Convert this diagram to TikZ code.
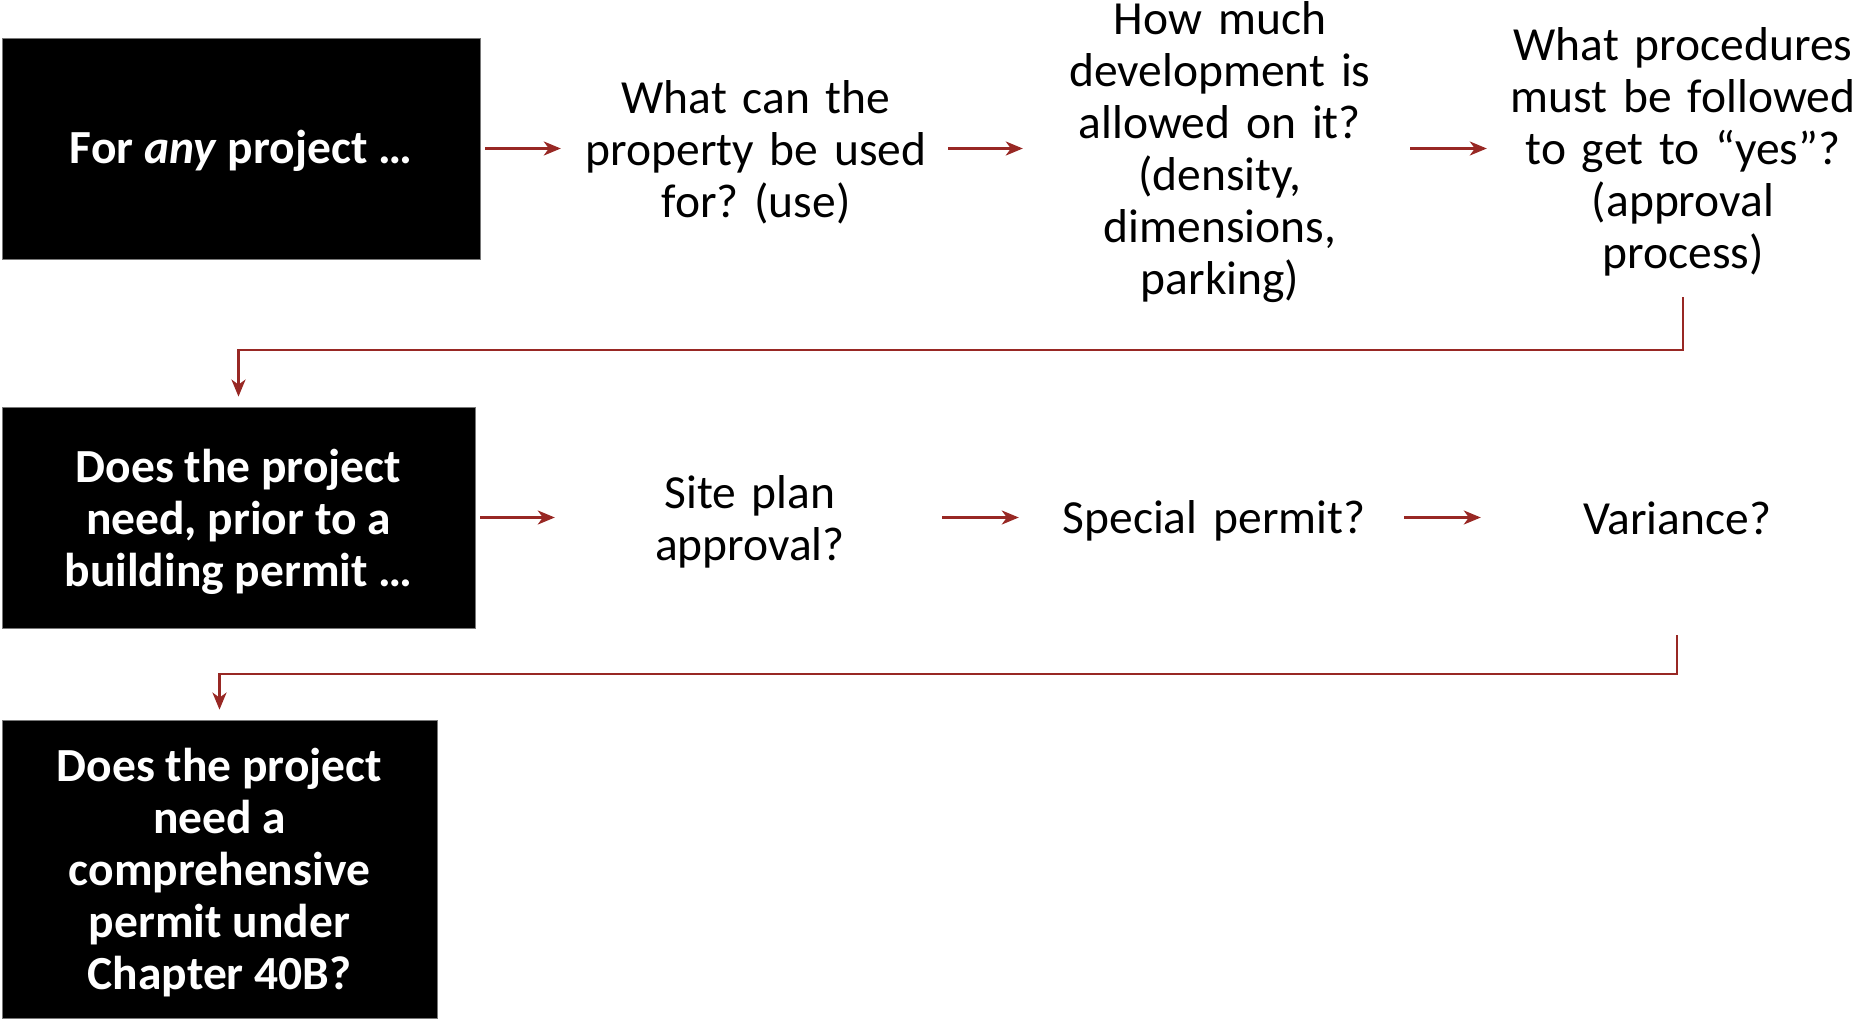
\documentclass[tikz,border=0pt]{standalone}
\usepackage{fontspec}
\setmainfont{Carlito}
\usetikzlibrary{arrows.meta}
\definecolor{arrred}{RGB}{152,40,36}
\definecolor{boxedge}{RGB}{120,120,120}
\begin{document}
\frenchspacing
\begin{tikzpicture}[x=1pt,y=-1pt,
  blackbox/.style={fill=black, draw=boxedge, line width=0.8pt, text=white,
    font=\fontsize{47.5}{52}\selectfont\bfseries, align=center, inner sep=0pt},
  boxtext/.style={inner sep=0pt, text=white, font=\fontsize{47.5}{52}\selectfont\bfseries, align=center},
  plain/.style={inner sep=0pt, align=center, font=\fontsize{47.5}{52}\selectfont, text=black},
  arr/.style={draw=arrred, line width=2.5pt, -{Stealth[length=17pt,width=14pt,inset=5pt]}},
]
\useasboundingbox (0,0) rectangle (1853,1019);

% row 1
\node[blackbox, minimum width=478pt, minimum height=221pt] (b1) at (241,148.5) {};
\node[boxtext] (b1t) at (241,151) {For \textit{any} project …};
\node[plain, text width=384pt] (t1) at (756,152) {What can the\\property be used\\for? (use)};
\node[plain, text width=394pt] (t2) at (1220,152) {How much\\development is\\allowed on it?\\(density,\\dimensions,\\parking)};
\node[plain, text width=392pt, minimum height=290pt] (t3) at (1683,152) {What procedures\\must be followed\\to get to “yes”?\\(approval\\process)};

\draw[arr, shorten <=5pt, shorten >=3pt] (b1.east) -- (b1.east -| t1.west);
\draw[arr] (b1.east -| t1.east) -- (b1.east -| t2.west);
\draw[arr, shorten <=-7pt] (b1.east -| t2.east) -- (b1.east -| t3.west);

% row 2
\node[blackbox, minimum width=473pt, minimum height=221pt] (b2) at (238.5,517.5) {};
\node[boxtext] (b2t) at (238.5,522) {Does the project\\need, prior to a\\building permit …};
\node[plain, text width=390pt] (s1) at (750,522) {Site plan\\approval?};
\node[plain, text width=390pt] (s2) at (1214,520.5) {Special permit?};
\node[plain, text width=392pt, minimum height=234pt] (s3) at (1677,518) {Variance?};

\draw[arr, shorten <=5pt] (b2.east) -- (b2.east -| s1.west);
\draw[arr, shorten <=-3pt] (b2.east -| s1.east) -- (b2.east -| s2.west);
\draw[arr, shorten <=-5pt] (b2.east -| s2.east) -- (b2.east -| s3.west);

% row 3
\node[blackbox, minimum width=435pt, minimum height=298pt] (b3) at (219.5,869) {};
\node[boxtext] (b3t) at (219.5,873) {Does the project\\need a\\comprehensive\\permit under\\Chapter 40B?};

% connectors
\draw[arr, shorten >=10pt] (t3.south) -- ++(0,53) -| (b2.north);
\draw[arr, shorten >=10pt] (s3.south) -- ++(0,39) -| (b3.north);
\end{tikzpicture}
\end{document}
